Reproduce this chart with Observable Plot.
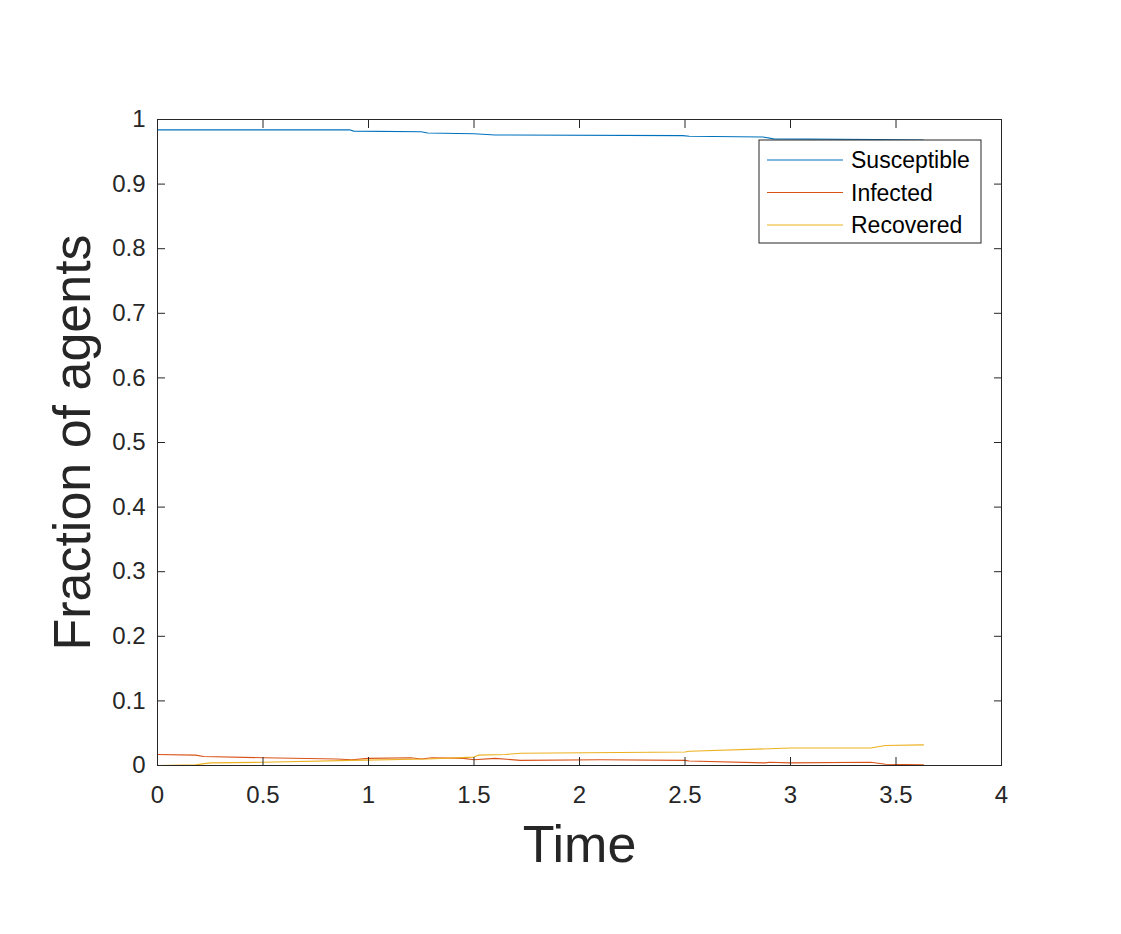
<!DOCTYPE html>
<html>
<head>
<meta charset="utf-8">
<script src="https://cdn.jsdelivr.net/npm/d3@7"></script>
<script src="https://cdn.jsdelivr.net/npm/@observablehq/plot@0.6"></script>
<style>
  html, body { margin: 0; padding: 0; background: #fff; }
  #chart { position: relative; width: 1121px; height: 934px; }
</style>
</head>
<body>
<div id="chart"></div>
<script>
// ---- data ----
const seriesNames = ["Susceptible", "Infected", "Recovered"];
const seriesColors = ["#0072BD", "#D95319", "#EDB120"];

const timeS = [0, 0.91, 0.93, 1.25, 1.28, 1.5, 1.6, 2.49, 2.52, 2.87, 2.92, 3.4, 3.63];
const susceptible = [0.984, 0.984, 0.982, 0.981, 0.979, 0.978, 0.976, 0.975, 0.974, 0.973, 0.970, 0.969, 0.968];

const timeI = [0, 0.18, 0.22, 0.5, 0.85, 0.92, 1.0, 1.2, 1.25, 1.3, 1.45, 1.5, 1.6, 1.72, 2.1, 2.5, 2.52, 2.88, 2.9, 3.0, 3.38, 3.45, 3.63];
const infected = [0.017, 0.016, 0.014, 0.012, 0.010, 0.009, 0.011, 0.012, 0.010, 0.012, 0.011, 0.009, 0.011, 0.008, 0.009, 0.008, 0.007, 0.004, 0.005, 0.004, 0.005, 0.002, 0.001];

const timeR = [0, 0.18, 0.25, 0.5, 0.92, 1.28, 1.5, 1.52, 1.65, 1.72, 2.5, 2.52, 2.9, 3.0, 3.38, 3.45, 3.63];
const recovered = [0, 0.001, 0.004, 0.005, 0.008, 0.010, 0.013, 0.016, 0.017, 0.019, 0.021, 0.022, 0.026, 0.027, 0.027, 0.031, 0.032];

const xTicks = [0, 0.5, 1, 1.5, 2, 2.5, 3, 3.5, 4];
const yTicks = [0, 0.1, 0.2, 0.3, 0.4, 0.5, 0.6, 0.7, 0.8, 0.9, 1];
const xLabel = "Time";
const yLabel = "Fraction of agents";

// ---- build table ----
const rows = [];
[[timeS, susceptible], [timeI, infected], [timeR, recovered]].forEach(([ts, vs], k) => {
  ts.forEach((t, i) => rows.push({series: seriesNames[k], t, v: vs[i]}));
});

const axisColor = "#262626";
const fmt = d => String(d);

const plot = Plot.plot({
  width: 1121,
  height: 934,
  marginLeft: 157,
  marginRight: 120,
  marginTop: 119,
  marginBottom: 169,
  style: {fontFamily: "'Liberation Sans', Arial, Helvetica, sans-serif", fontSize: "24px", color: axisColor, background: "#fff"},
  x: {domain: [0, 4]},
  y: {domain: [0, 1]},
  color: {domain: seriesNames, range: seriesColors},
  marks: [
    Plot.line(rows, {x: "t", y: "v", z: "series", stroke: "series", strokeWidth: 1.1}),
    Plot.frame({stroke: axisColor, strokeWidth: 1}),
    // labels
    Plot.axisX({anchor: "bottom", ticks: xTicks, tickSize: 0, tickPadding: 20, tickFormat: fmt, label: null, fill: axisColor, fontSize: 24}),
    Plot.axisY({anchor: "left", ticks: yTicks, tickSize: 0, tickPadding: 12, tickFormat: fmt, label: null, fill: axisColor, fontSize: 24}),
    // inward ticks on all sides
    Plot.axisX({anchor: "bottom", ticks: xTicks, tickSize: -8, text: null, label: null, stroke: axisColor}),
    Plot.axisX({anchor: "top", ticks: xTicks, tickSize: -8, text: null, label: null, stroke: axisColor}),
    Plot.axisY({anchor: "left", ticks: yTicks, tickSize: -8, text: null, label: null, stroke: axisColor}),
    Plot.axisY({anchor: "right", ticks: yTicks, tickSize: -8, text: null, label: null, stroke: axisColor}),
    // axis titles
    Plot.text([xLabel], {frameAnchor: "bottom", textAnchor: "middle", lineAnchor: "top", dy: 60, fontSize: 52, fill: axisColor, text: d => d}),
    Plot.text([yLabel], {frameAnchor: "left", textAnchor: "middle", lineAnchor: "top", dx: -104, rotate: -90, fontSize: 52, fill: axisColor, text: d => d})
  ]
});

document.getElementById("chart").appendChild(plot);

// ---- legend (drawn in the svg) ----
const svg = d3.select(plot);
const lg = svg.append("g").attr("transform", "translate(759,140)");
lg.append("rect").attr("width", 222).attr("height", 103).attr("fill", "#fff").attr("stroke", axisColor).attr("stroke-width", 1);
seriesNames.forEach((name, i) => {
  const cy = 20 + i * 32.5;
  lg.append("line").attr("x1", 8).attr("x2", 84).attr("y1", cy).attr("y2", cy)
    .attr("stroke", seriesColors[i]).attr("stroke-width", 1.1);
  lg.append("text").attr("x", 92).attr("y", cy).attr("dy", "0.35em")
    .attr("text-anchor", "start")
    .attr("font-size", 23).attr("fill", "#000").text(name);
});
</script>
</body>
</html>
